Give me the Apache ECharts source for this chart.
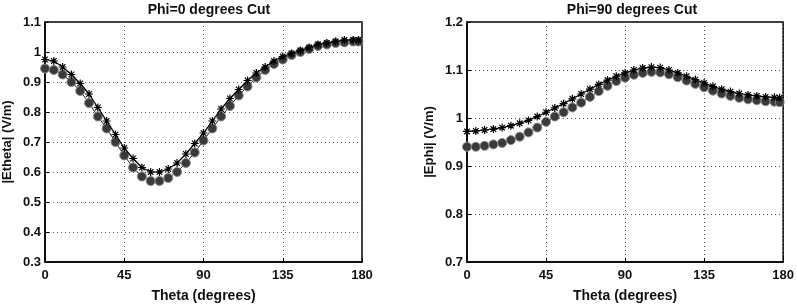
<!DOCTYPE html>
<html><head><meta charset="utf-8">
<script src="https://cdn.jsdelivr.net/npm/echarts@6/dist/echarts.min.js"></script>
<style>html,body{margin:0;padding:0;background:#fff}#c{width:797px;height:308px}</style>
</head><body><div id="c"></div>
<script>
const theta = [0,5,10,15,20,25,30,35,40,45,50,55,60,65,70,75,80,85,90,95,100,105,110,115,120,125,130,135,140,145,150,155,160,165,170,175,178];
const ethetaCircle = [0.945,0.94,0.925,0.90,0.87,0.83,0.785,0.745,0.70,0.655,0.615,0.585,0.57,0.57,0.58,0.60,0.63,0.665,0.705,0.745,0.785,0.82,0.855,0.885,0.915,0.94,0.96,0.975,0.99,1.00,1.01,1.02,1.025,1.03,1.032,1.035,1.035];
const ethetaStar = [0.975,0.97,0.95,0.925,0.895,0.86,0.815,0.77,0.725,0.68,0.645,0.615,0.60,0.60,0.61,0.63,0.66,0.695,0.73,0.77,0.81,0.845,0.875,0.905,0.93,0.95,0.97,0.985,0.995,1.005,1.015,1.025,1.03,1.035,1.04,1.04,1.04];
const ephiCircle = [0.94,0.94,0.942,0.945,0.948,0.954,0.961,0.97,0.98,0.992,1.003,1.012,1.022,1.032,1.044,1.056,1.067,1.077,1.084,1.09,1.094,1.096,1.095,1.091,1.085,1.078,1.071,1.064,1.057,1.051,1.046,1.042,1.039,1.037,1.035,1.034,1.033];
const ephiStar = [0.972,0.973,0.975,0.977,0.98,0.984,0.989,0.995,1.003,1.012,1.021,1.03,1.04,1.05,1.06,1.07,1.079,1.087,1.094,1.1,1.104,1.106,1.105,1.1,1.094,1.087,1.08,1.073,1.066,1.06,1.055,1.051,1.048,1.046,1.044,1.043,1.042];
const xTicks = [0,45,90,135,180];
const titles = ['Phi=0 degrees Cut','Phi=90 degrees Cut'];
const yNames = ['|Etheta| (V/m)','|Ephi| (V/m)'];
const xName = 'Theta (degrees)';

const font = 'Liberation Sans, Arial, sans-serif';
const starPath = 'path://M0,-10L0,10M-10,0L10,0M-7,-7L7,7M-7,7L7,-7';
const pair = (xs, ys) => xs.map((x, i) => [x, ys[i]]);

const gridStyle = {show:true, lineStyle:{color:'#555', type:[1,3], width:1}};
function xAxis(idx){
  return {type:'value', gridIndex:idx, min:0, max:180, interval:45,
    name:xName, nameLocation:'middle', nameGap:27,
    nameTextStyle:{fontFamily:font, fontSize:14, fontWeight:'bold', color:'#111'},
    axisLine:{show:true, onZero:false, lineStyle:{color:'#000', width:1.5}},
    axisTick:{show:true, inside:true, length:4, lineStyle:{color:'#000'}},
    axisLabel:{fontFamily:font, fontSize:13, fontWeight:'bold', color:'#111', margin:7, formatter:v=>xTicks.includes(v)?String(v):''},
    splitLine:gridStyle};
}
function yAxis(idx, min, max, interval, gap){
  return {type:'value', gridIndex:idx, min, max, interval,
    name:yNames[idx], nameLocation:'middle', nameGap:gap,
    nameTextStyle:{fontFamily:font, fontSize:13, fontWeight:'bold', color:'#111'},
    axisLine:{show:true, onZero:false, lineStyle:{color:'#000', width:1.5}},
    axisTick:{show:true, inside:true, length:4, lineStyle:{color:'#000'}},
    axisLabel:{fontFamily:font, fontSize:13, fontWeight:'bold', color:'#111', margin:4,
      formatter:v=>String(Math.round(v*10)/10)},
    splitLine:gridStyle};
}
function circleSeries(idx, data){
  return {type:'line', xAxisIndex:idx, yAxisIndex:idx, data, symbol:'circle', symbolSize:9,
    showAllSymbol:true, lineStyle:{color:'#222', width:1},
    itemStyle:{color:'#3a3a3a', borderColor:'#8a8a8a', borderWidth:1}, z:2, animation:false};
}
function starSeries(idx, data){
  return {type:'line', xAxisIndex:idx, yAxisIndex:idx, data, symbol:starPath, symbolSize:8,
    showAllSymbol:true, lineStyle:{color:'#000', width:1.2},
    itemStyle:{color:'#000', borderColor:'#000', borderWidth:1.2}, z:3, animation:false};
}

const chart = echarts.init(document.getElementById('c'));
chart.setOption({
  backgroundColor:'#fff',
  animation:false,
  title:[
    {text:titles[0], left:204, top:-2, textAlign:'center', textStyle:{fontFamily:font, fontSize:14, fontWeight:'bold', color:'#111'}},
    {text:titles[1], left:627, top:-2, textAlign:'center', textStyle:{fontFamily:font, fontSize:14, fontWeight:'bold', color:'#111'}}
  ],
  grid:[
    {left:44, right:435, top:22, bottom:32, show:true, borderColor:'#000', borderWidth:1.5, backgroundColor:'transparent'},
    {left:467, right:10, top:22, bottom:32, show:true, borderColor:'#000', borderWidth:1.5, backgroundColor:'transparent'}
  ],
  xAxis:[xAxis(0), xAxis(1)],
  yAxis:[yAxis(0, 0.3, 1.1, 0.1, 31), yAxis(1, 0.7, 1.2, 0.1, 31)],
  series:[
    circleSeries(0, pair(theta, ethetaCircle)),
    starSeries(0, pair(theta, ethetaStar)),
    circleSeries(1, pair(theta, ephiCircle)),
    starSeries(1, pair(theta, ephiStar))
  ]
});
</script></body></html>
